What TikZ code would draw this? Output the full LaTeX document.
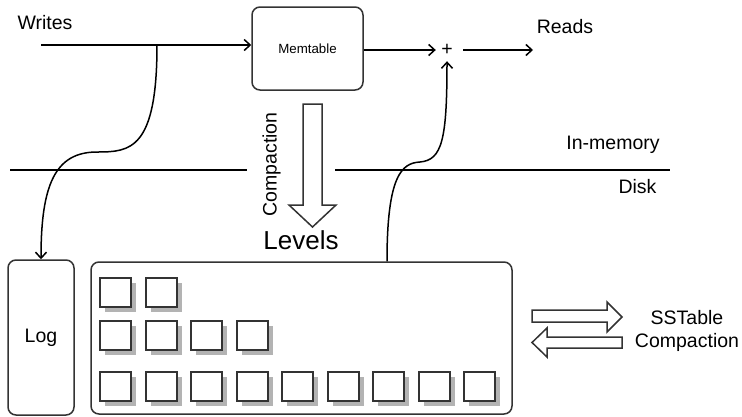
\documentclass[tikz,border=0pt]{standalone}
\usepackage{fontspec}
\setmainfont{Liberation Sans}
\usetikzlibrary{arrows.meta,shadows}
\definecolor{boxc}{HTML}{333333}
\definecolor{shadc}{HTML}{B3B3B3}
\begin{document}
\begin{tikzpicture}[x=1pt,y=-1pt,
  lbl/.style={font=\fontsize{19.5}{22}\selectfont, inner sep=0},
  box/.style={draw=boxc, line width=1.5pt, rounded corners=8pt, fill=white, inner sep=0},
  arr/.style={line width=1.5pt, -{Straight Barb[length=6pt,width=11pt,line width=1.5pt]}},
  ln/.style={line width=1.5pt},
  hollow/.style={draw=boxc, line width=1.5pt, fill=white, line join=miter},
  sq/.style={draw=boxc, line width=2pt, fill=white, minimum width=31pt, minimum height=29pt, inner sep=0,
    general shadow={fill=shadc, shadow xshift=5pt, shadow yshift=-5pt}}
]
\useasboundingbox (0,0) rectangle (742,416);

% nodes
\node[box, minimum width=111pt, minimum height=83pt, font=\fontsize{13.3}{15}\selectfont] (mem) at (307.5,48.5) {Memtable};
\node[inner sep=0, minimum width=22pt, minimum height=22pt, font=\fontsize{19.5}{22}\selectfont] (plus) at (447,50) {+};
\node[box, minimum width=66pt, minimum height=155pt, font=\fontsize{19.5}{22}\selectfont] (log) at (41,337.5) {Log};
\node[box, minimum width=421pt, minimum height=152pt] (lev) at (301.5,338) {};

\node[lbl] (writes) at (45,23) {Writes};
\node[lbl] (reads) at (565,27) {Reads};
\node[lbl] (inmem) at (613,145) {In-memory};
\node[lbl] (disk) at (637.5,187) {Disk};
\node[lbl, rotate=90] (comp) at (271.5,164.5) {Compaction};
\node[inner sep=0, font=\fontsize{26}{30}\selectfont] (levels) at (301,240) {Levels};
\node[lbl, align=center, font=\fontsize{19.5}{23}\selectfont] (sst) at (687,331) {SSTable\\Compaction};

% coordinates
\coordinate (ws) at (41,45);
\coordinate (wb) at (157,45);
\coordinate (re) at (533,50);

% connectors
\draw[arr] (ws) -- (mem.west |- ws);
\draw[arr] (mem.east |- plus.west) -- (plus.west);
\draw[arr] ([xshift=5pt]plus.east) -- (re);
\draw[arr] (wb) .. controls (157,150) and (130,152) .. (97,152) .. controls (55,152) and (41,185) .. (log.north);
\draw[arr] (lev.north -| 387,0) .. controls (387,175) and (402,163) .. (420,162) .. controls (442,160) and (447,140) .. (plus.south);

% divider
\draw[ln] (10,170) -- (247,170);
\draw[ln] (335,170) -- (670,170);

% compaction arrow
\draw[hollow] (303,104) -- (322,104) -- (322,205) -- (336,205) -- (312.5,227) -- (289,205) -- (303,205) -- cycle;

% sstable arrows
\draw[hollow] (532,310) -- (607,310) -- (607,302) -- (622,317) -- (607,332) -- (607,322) -- (532,322) -- cycle;
\draw[hollow] (622,337) -- (547,337) -- (547,328) -- (532,342.5) -- (547,357) -- (547,348) -- (622,348) -- cycle;

% squares
\foreach \i in {0,1} { \node[sq] (a\i) at ({115.5+45.5*\i},292.5) {}; }
\foreach \i in {0,...,3} { \node[sq] (b\i) at ({115.5+45.5*\i},335.5) {}; }
\foreach \i in {0,...,8} { \node[sq] (c\i) at ({115.5+45.5*\i},386.5) {}; }
\end{tikzpicture}
\end{document}
